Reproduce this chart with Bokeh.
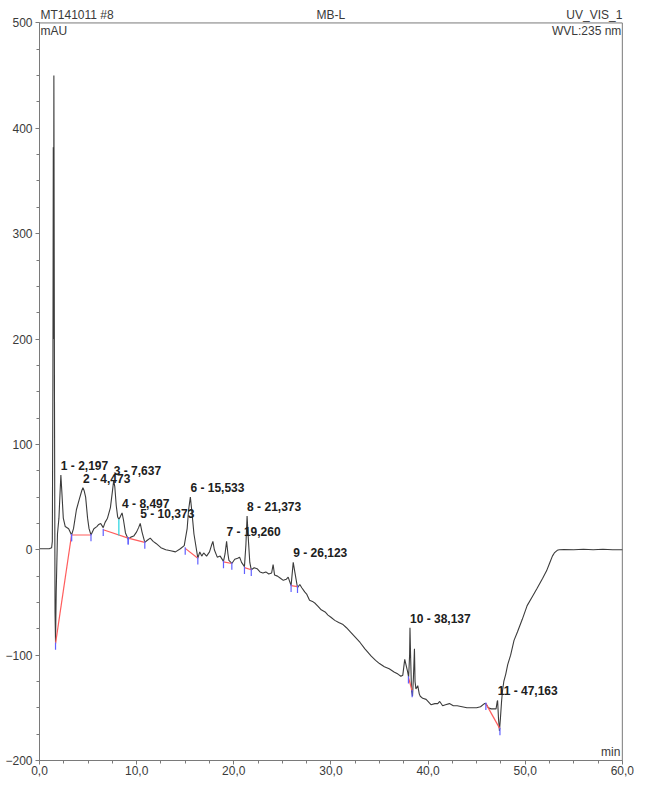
from bokeh.plotting import figure
from bokeh.models import FixedTicker, Label, ColumnDataSource, Range1d
from bokeh.core.properties import value
from bokeh.embed import file_html
from bokeh.resources import INLINE

# ---- data ----
time_min = [0.0, 0.5, 1.0, 1.25, 1.32, 1.38, 1.42, 1.45, 1.48, 1.54, 1.60, 1.65, 1.72, 1.85,
            2.0, 2.12, 2.2, 2.3, 2.45, 2.65, 3.0, 3.3, 3.5, 3.8, 4.1, 4.35, 4.47, 4.6, 4.75,
            4.95, 5.1, 5.3, 5.6, 5.9, 6.1, 6.3, 6.56, 6.75, 7.0, 7.3, 7.5, 7.64, 7.75, 7.9,
            8.05, 8.17, 8.3, 8.5, 8.65, 8.85, 9.13, 9.4, 9.7, 10.0, 10.2, 10.37, 10.55, 10.84,
            11.1, 11.4, 11.7, 12.0, 12.5, 13.0, 13.5, 14.0, 14.5, 14.9, 15.2, 15.35, 15.53,
            15.7, 15.9, 16.3, 16.5, 16.7, 16.9, 17.2, 17.5, 17.7, 17.85, 18.0, 18.3, 18.6,
            18.94, 19.1, 19.26, 19.4, 19.5, 19.8, 20.1, 20.4, 20.6, 20.8, 21.1, 21.25, 21.37,
            21.5, 21.65, 21.8, 22.1, 22.4, 22.7, 23.0, 23.3, 23.6, 23.9, 24.05, 24.2, 24.5,
            24.8, 25.1, 25.4, 25.6, 25.9, 26.12, 26.3, 26.56, 26.8, 27.0, 27.3, 27.5, 27.8,
            28.1, 28.4, 28.7, 29.0, 29.4, 29.7, 30.0, 30.4, 30.8, 31.25, 31.6, 32.0, 32.5,
            33.0, 33.5, 34.15, 34.6, 35.0, 35.5, 36.0, 36.5, 36.9, 37.2, 37.4, 37.6, 37.75,
            37.9, 38.0, 38.1, 38.14, 38.2, 38.3, 38.4, 38.5, 38.6, 38.66, 38.75, 38.94, 39.1,
            39.2, 39.45, 39.8, 40.3, 40.7, 41.0, 41.2, 41.5, 41.8, 42.2, 42.6, 43.0, 43.5,
            44.0, 44.4, 45.0, 45.4, 45.8, 45.95, 46.2, 46.5, 47.0, 47.12, 47.16, 47.25, 47.35,
            47.45, 47.56, 47.66, 47.8, 48.0, 48.2, 48.5, 48.85, 49.2, 49.7, 50.2, 50.7, 51.2,
            51.8, 52.2, 52.5, 52.8, 53.0, 53.3, 53.5, 54.0, 55.0, 56.0, 57.0, 58.0, 59.0, 60.0]
signal_mau = [1, 1, 1, 2, 8, 160, 382, 200, 450, 150, -60, -88, -40, 15,
              30, 55, 71, 55, 30, 22, 20, 14, 20, 38, 48, 56, 59, 56, 50,
              30, 20, 14, 20, 22, 24, 25, 21, 26, 30, 40, 55, 66, 60, 42,
              31, 29, 31, 35, 28, 16, 10, 12, 13, 17, 21, 25, 17, 7,
              9, 11, 8, 6, 2, 0, -1, -2, 1, 4, 20, 38, 50,
              35, 15, -8, -2, -6, -3, -6, -2, 4, 8, 0, -7, -6,
              -11, -4, 8, -4, -10, -13, -9, -8, -7, -12, -16, 5, 32,
              10, -12, -19, -17, -18, -21, -22, -21, -23, -22, -14, -24, -25,
              -27, -29, -28, -26, -34, -12, -22, -36, -33, -36, -40, -42, -48,
              -49, -51, -54, -57, -59, -62, -64, -67, -69, -71, -74, -78, -83,
              -88, -94, -101, -105, -108, -111, -113, -116, -118, -120, -119, -104, -110,
              -116, -121, -100, -74, -100, -134, -139, -120, -94, -125, -132, -129, -137,
              -139, -141, -142, -147, -146, -146, -144, -148, -147, -146, -148, -148, -149,
              -150, -150, -150, -149, -146, -146, -150, -151, -151, -144, -143, -160, -172,
              -160, -145, -134, -125, -118, -109, -100, -86, -78, -66, -53, -45, -37,
              -27, -20, -13, -6, -3, -0.5, 0, 0.3, 0, 0.5, 0, 0.5, 0, 0]

# integration baselines (start/end of each baseline segment)
base_x0 = [1.65, 3.3, 6.56, 9.13, 15.0, 18.94, 21.1, 25.9, 37.98, 45.95]
base_y0 = [-89, 14, 19, 11, 1.3, -11.5, -17, -34, -121, -146]
base_x1 = [3.3, 5.3, 9.13, 10.84, 16.3, 19.8, 21.8, 26.56, 38.36, 47.4]
base_y1 = [14, 14, 11, 7, -8, -13, -19, -35, -134, -170]
# peak 3/4 drop line
drop_x = [8.17]
drop_top = [29]
drop_bottom = [13.5]

peak_no = [1, 2, 3, 4, 5, 6, 7, 8, 9, 10, 11]
peak_time = [2.197, 4.473, 7.637, 8.497, 10.373, 15.533, 19.260, 21.373, 26.123, 38.137, 47.163]
peak_height = [71, 59, 66, 35, 25, 50, 8, 32, -12, -74, -143]
peak_text = ["%d - %s" % (n, ("%.3f" % t).replace(".", ",")) for n, t in zip(peak_no, peak_time)]

x_ticks = [0, 10, 20, 30, 40, 50, 60]
x_tick_labels = ["0,0", "10,0", "20,0", "30,0", "40,0", "50,0", "60,0"]
y_ticks = [-200, -100, 0, 100, 200, 300, 400, 500]

FONT = "Liberation Sans"
GREY = "#7a7a7a"
TXT = "#3a3a3a"

p = figure(width=637, height=777, output_backend="svg", toolbar_location=None,
           x_range=Range1d(0, 60.12), y_range=Range1d(-200, 517.5),
           min_border_left=39, min_border_right=14, min_border_top=4, min_border_bottom=0,
           background_fill_color="white", border_fill_color="white")
p.grid.visible = False
p.outline_line_color = None

for ax in (p.xaxis[0], p.yaxis[0]):
    ax.axis_line_color = GREY
    ax.major_tick_line_color = GREY
    ax.minor_tick_line_color = GREY
    ax.major_tick_in = 0
    ax.minor_tick_in = 0
    ax.major_tick_out = 4
    ax.minor_tick_out = 3
    ax.major_label_text_font = FONT
    ax.major_label_text_font_size = "12px"
    ax.major_label_text_color = TXT

p.xaxis[0].ticker = FixedTicker(ticks=x_ticks, minor_ticks=[i * 2.5 for i in range(25)])
p.xaxis[0].major_label_overrides = {t: l for t, l in zip(x_ticks, x_tick_labels)}
p.xaxis[0].major_label_standoff = 1
p.xaxis[0].bounds = (0, 60)
p.yaxis[0].ticker = FixedTicker(ticks=y_ticks, minor_ticks=[-200 + i * 25 for i in range(29)])
p.yaxis[0].major_label_standoff = 3
p.yaxis[0].bounds = (-200, 500)

# frame top / right border
p.segment([0, 60], [500, -200], [60, 60], [500, 500], line_color=GREY, line_width=1)

# chromatogram trace
p.line(time_min, signal_mau, line_color="#3c3c3c", line_width=1.1)

# baselines
p.segment(base_x0, base_y0, base_x1, base_y1, line_color="#ff5c5c", line_width=1.2)
p.segment(drop_x, drop_top, drop_x, drop_bottom, line_color="#22d3e0", line_width=1.2)
# baseline markers (small blue ticks)
mx = base_x0 + base_x1
my = base_y0 + base_y1
p.segment(mx, [v + 1 for v in my], mx, [v - 6 for v in my], line_color="#6060ff", line_width=1.2)

# peak labels
src = ColumnDataSource(dict(x=peak_time, y=peak_height, t=peak_text))
p.text(x="x", y="y", text="t", source=src, text_font=value(FONT), text_font_size="12px",
       text_font_style="bold", text_color="#202020", text_baseline="bottom", text_align="left",
       y_offset=-2)

# header / corner texts
def lab(x, y, text, align, baseline, xo, yo):
    p.add_layout(Label(x=x, y=y, text=text, text_align=align, text_baseline=baseline,
                       x_offset=xo, y_offset=yo, text_font=FONT, text_font_size="12px",
                       text_color=TXT))

lab(0, 500, "MT141011 #8", "left", "bottom", 1, 1)
lab(30, 500, "MB-L", "center", "bottom", 0, 1)
lab(60, 500, "UV_VIS_1", "right", "bottom", 0, 1)
lab(0, 500, "mAU", "left", "top", 1, -1)
lab(60, 500, "WVL:235 nm", "right", "top", -1, -1)
lab(60, -200, "min", "right", "bottom", -2, 2)

open("out.html", "w").write(file_html(p, INLINE))
